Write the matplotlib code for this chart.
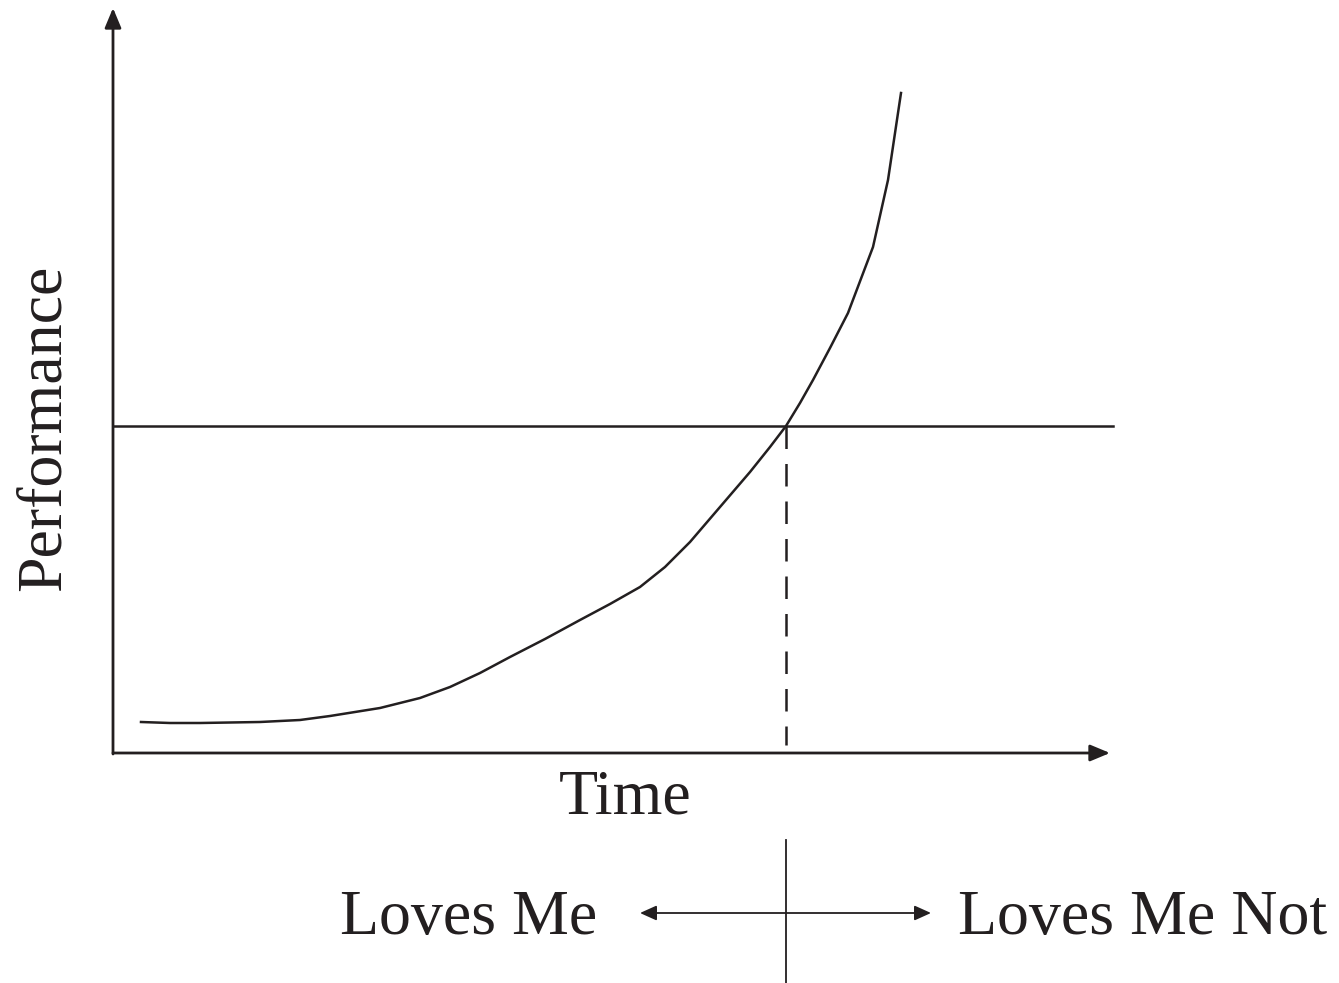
import matplotlib.pyplot as plt

plt.rcParams['font.family'] = ['Liberation Serif', 'DejaVu Serif']

# curve (x = time, y = performance), in figure pixel units
time = [141, 170, 200, 260, 300, 330, 380, 420, 450, 480, 510, 545, 580, 610, 640,
        665, 690, 720, 750, 770, 786, 800, 813, 830, 848, 873, 888, 898, 901]
perf = [722, 723, 723, 722, 720, 716, 708, 698, 687, 673, 657, 639, 620, 604, 587,
        567, 542, 507, 472, 447, 426, 403, 380, 348, 313, 247, 180, 113, 93]

threshold = 426
cross_time = 786

fig = plt.figure(figsize=(13.39, 9.83), dpi=100)
ax = fig.add_axes([0, 0, 1, 1])
ax.set_xlim(0, 1339)
ax.set_ylim(983, 0)
ax.axis('off')

ink = '#231f20'
arrow = dict(arrowstyle='-|>,head_length=1.2,head_width=0.5', color=ink, lw=2,
             shrinkA=0, shrinkB=0)

# axes with arrows
ax.annotate('', xy=(113, 8), xytext=(113, 754), arrowprops=arrow)
ax.annotate('', xy=(1110, 753), xytext=(113, 753), arrowprops=arrow)

ax.plot(time, perf, color=ink, lw=1.8, solid_joinstyle='round')
ax.plot([113, 1113], [threshold, threshold], color=ink, lw=1.8)
ax.plot([cross_time, cross_time], [threshold, 745], color=ink, lw=1.8,
        linestyle=(0, (9, 6)))

ax.text(45, 428, 'Performance', rotation=90, ha='center', va='center', fontsize=46,
        color=ink)
ax.text(625, 799, 'Time', ha='center', va='center', fontsize=46, color=ink)

# bottom legend
ax.plot([cross_time, cross_time], [840, 983], color=ink, lw=1.3)
small = dict(arrowstyle='-|>,head_length=1.0,head_width=0.45', color=ink, lw=1.3,
             shrinkA=0, shrinkB=0)
ax.annotate('', xy=(640, 913), xytext=(786, 913), arrowprops=small)
ax.annotate('', xy=(931, 913), xytext=(786, 913), arrowprops=small)
ax.text(597, 919, 'Loves Me', ha='right', va='center', fontsize=46, color=ink)
ax.text(958, 919, 'Loves Me Not', ha='left', va='center', fontsize=46, color=ink)

fig.savefig('out.png', dpi=100)
